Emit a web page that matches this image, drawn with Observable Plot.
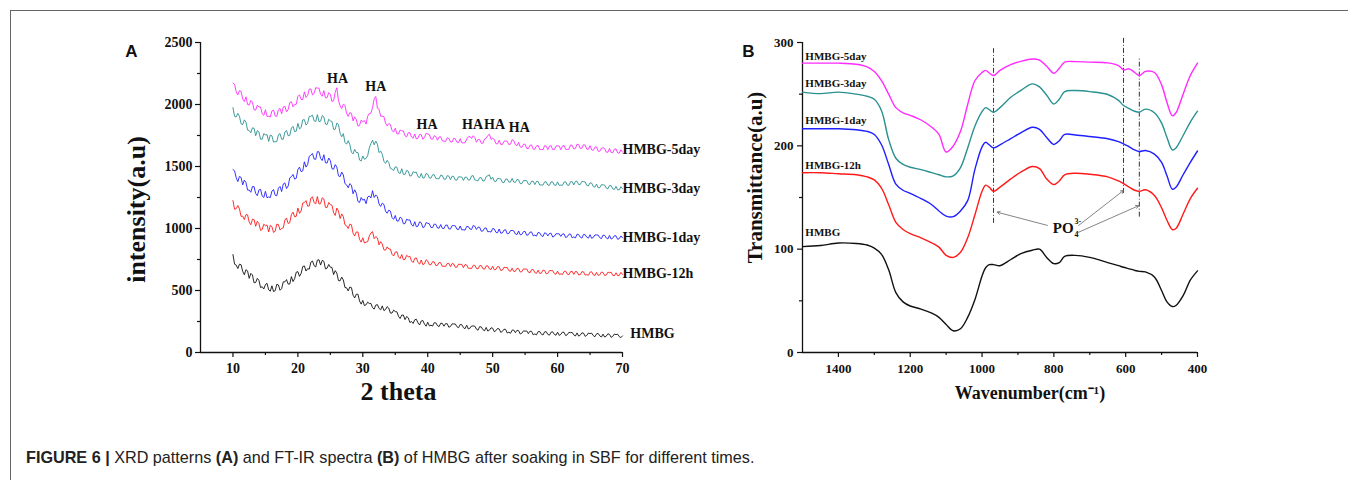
<!DOCTYPE html>
<html>
<head>
<meta charset="utf-8">
<script src="https://cdn.jsdelivr.net/npm/d3@7"></script>
<script src="https://cdn.jsdelivr.net/npm/@observablehq/plot@0.6"></script>
<style>
  body { margin: 0; background: #fff; }
  #wrap { position: relative; width: 1348px; height: 480px; overflow: hidden; background: #fff; }
  #frameTop { position: absolute; left: 10px; top: 10px; width: 1338px; height: 0; border-top: 1.5px solid #666; }
  #frameLeft { position: absolute; left: 10px; top: 10px; width: 0; height: 470px; border-left: 1.5px solid #666; }
  #plotA { position: absolute; left: 0; top: 0; }
  #plotB { position: absolute; left: 730px; top: 0; }
  #caption { position: absolute; left: 26px; top: 448px; font-family: "Liberation Sans Narrow", "Liberation Sans", Arial, sans-serif; font-size: 16.2px; color: #222; white-space: nowrap; }
</style>
</head>
<body>
<div id="wrap">
  <div id="frameTop"></div>
  <div id="frameLeft"></div>
  <div id="plotA"></div>
  <div id="plotB"></div>
  <div id="caption"><b>FIGURE 6 |</b> XRD patterns <b>(A)</b> and FT-IR spectra <b>(B)</b> of HMBG after soaking in SBF for different times.</div>
</div>
<script>
// ---------- Panel A: XRD ----------
// readings at 2θ = 10, 10.5, ... 70 (main) and 10.25, 10.75, ... 69.75 (q)
const thetaMain = d3.range(10, 70.001, 0.5);
const thetaQ = d3.range(10.25, 70, 0.5);

const xrdHMBG = [
  790,705,712,655,668,598,625,565,582,530,
  548,505,538,498,545,515,570,552,612,595,
  652,638,698,676,728,700,745,705,735,680,
  688,628,640,578,585,522,528,462,470,415,
  420,385,395,362,382,356,376,346,358,318,
  330,292,302,265,280,250,264,238,254,228,
  244,220,240,216,236,212,232,210,230,208,
  226,200,220,196,214,188,208,184,202,180,
  196,176,190,170,186,164,180,160,176,156,
  172,152,170,150,168,148,166,146,164,146,
  164,146,162,144,160,142,158,140,156,138,
  152,136,150,134,148,132,146,130,144,128,
  134
];
const xrdHMBGq = [
  712,677,708,627,658,638,562,598,524,512,
  558,494,492,550,502,570,588,552,572,648,
  614,693,657,672,738,690,748,743,674,710,
  686,660,580,608,524,497,523,440,470,390,
  378,406,396,350,386,344,338,370,318,342,
  328,274,302,290,242,234,268,222,258,212,
  215,213,239,209,235,233,204,231,230,200,
  224,192,190,214,212,180,206,175,173,199,
  168,194,162,188,157,155,181,179,149,175,
  174,172,143,142,169,141,168,140,167,139,
  138,165,136,163,162,133,132,159,130,157,
  156,127,154,125,124,151,122,149,148,120
];
const xrd12h = [
  1225,1160,1158,1100,1112,1052,1075,1018,1040,992,
  1022,972,1015,978,1032,1002,1068,1040,1112,1095,
  1165,1142,1210,1180,1245,1208,1258,1200,1238,1170,
  1192,1128,1165,1080,1095,1022,1035,962,972,912,
  925,890,940,975,935,868,875,825,835,792,
  810,772,790,752,772,738,758,726,746,716,
  738,708,730,704,724,696,718,692,714,688,
  710,684,706,680,702,678,700,676,698,674,
  696,670,690,664,684,660,680,656,676,652,
  672,648,668,644,664,640,662,638,660,636,
  656,634,654,632,652,630,650,628,650,628,
  648,626,646,626,645,624,644,622,643,622,
  630
];
const xrd12hq = [
  1155,1185,1098,1072,1110,1030,1072,1058,985,1035,
  1028,1025,968,1035,988,1005,1085,1048,1132,1098,
  1122,1205,1225,1182,1255,1200,1198,1248,1170,1210,
  1188,1105,1142,1118,1030,1000,1030,940,972,890,
  883,893,964,918,924,894,828,852,834,778,
  812,758,748,784,776,725,763,713,708,748,
  708,732,701,726,695,693,719,717,687,713,
  711,709,679,677,703,674,701,672,699,670,
  668,694,662,688,685,655,653,679,649,675,
  673,643,669,639,637,664,634,661,660,631,
  630,629,656,627,654,654,625,652,624,623,
  651,622,622,649,621,648,648,619,619,646
];
const xrd1day = [
  1475,1410,1420,1352,1372,1310,1338,1282,1310,1262,
  1300,1255,1302,1268,1325,1298,1368,1342,1418,1398,
  1475,1458,1538,1515,1592,1560,1620,1565,1595,1528,
  1548,1478,1495,1418,1432,1352,1362,1280,1285,1210,
  1228,1200,1262,1305,1270,1198,1205,1140,1148,1088,
  1105,1060,1082,1040,1068,1030,1055,1020,1046,1014,
  1042,1008,1036,1004,1032,1000,1028,996,1024,994,
  1020,990,1016,996,1024,992,1010,980,1004,976,
  1000,970,996,964,990,960,985,956,980,952,
  976,950,972,946,968,942,965,940,962,938,
  958,936,956,934,955,932,954,930,952,930,
  950,928,948,926,946,924,944,922,940,918,
  925
];
const xrd1dayq = [
  1465,1378,1412,1390,1310,1292,1338,1265,1316,1250,
  1248,1249,1314,1264,1339,1359,1322,1408,1436,1405,
  1495,1465,1495,1582,1605,1558,1618,1548,1530,1568,
  1482,1515,1425,1455,1362,1328,1350,1312,1218,1250,
  1237,1254,1246,1250,1257,1178,1194,1123,1140,1074,
  1060,1092,1038,1075,1069,1019,1014,1054,1007,1048,
  1038,1007,1033,1003,1001,1027,997,1023,1021,991,
  989,987,1016,992,1018,1011,978,1003,973,971,
  996,965,962,987,957,983,981,951,949,975,
  945,971,941,939,965,935,961,960,931,958,
  957,956,927,954,925,924,951,923,950,922,
  921,948,947,918,945,916,915,942,913,940
];
const xrd3day = [
  1975,1900,1905,1838,1858,1790,1812,1748,1778,1720,
  1755,1702,1748,1700,1756,1720,1778,1748,1810,1782,
  1848,1815,1878,1848,1905,1868,1918,1865,1900,1838,
  1868,1800,1850,1768,1765,1680,1678,1602,1612,1552,
  1585,1565,1650,1712,1705,1612,1598,1525,1532,1478,
  1498,1450,1482,1436,1462,1426,1452,1418,1444,1410,
  1438,1406,1434,1402,1430,1398,1426,1394,1420,1390,
  1416,1388,1414,1392,1426,1388,1410,1382,1418,1432,
  1414,1378,1402,1372,1398,1374,1404,1372,1392,1362,
  1386,1358,1382,1354,1380,1352,1376,1350,1376,1350,
  1376,1350,1375,1350,1377,1352,1382,1356,1378,1348,
  1368,1338,1358,1330,1352,1326,1346,1320,1340,1312,
  1322
];
const xrd3dayq = [
  1904,1928,1844,1876,1794,1772,1808,1790,1720,1765,
  1757,1753,1697,1701,1765,1720,1790,1751,1824,1785,
  1803,1876,1834,1904,1914,1863,1862,1911,1842,1881,
  1863,1800,1838,1740,1694,1708,1614,1638,1613,1544,
  1558,1588,1685,1675,1680,1625,1542,1550,1485,1468,
  1494,1444,1436,1469,1423,1458,1454,1410,1406,1444,
  1407,1433,1403,1401,1427,1397,1423,1421,1391,1417,
  1415,1414,1390,1424,1392,1384,1409,1386,1426,1396,
  1382,1404,1400,1370,1399,1374,1374,1396,1362,1387,
  1385,1355,1381,1379,1350,1349,1376,1348,1376,1348,
  1348,1348,1376,1348,1378,1380,1354,1380,1376,1344,
  1366,1334,1328,1353,1350,1320,1346,1315,1312,1337
];
const xrd5day = [
  2172,2102,2112,2045,2062,1995,2018,1955,1980,1925,
  1958,1905,1948,1908,1958,1925,1985,1958,2022,2000,
  2065,2040,2102,2072,2125,2090,2132,2082,2112,2055,
  2082,2030,2135,1990,2002,1930,1935,1868,1878,1832,
  1862,1842,1928,1975,2065,1962,1905,1850,1846,1790,
  1808,1762,1788,1748,1772,1738,1762,1728,1756,1735,
  1762,1722,1748,1712,1740,1704,1732,1698,1728,1696,
  1724,1690,1722,1742,1748,1696,1718,1688,1728,1760,
  1728,1684,1712,1678,1706,1676,1716,1676,1694,1654,
  1680,1644,1674,1640,1670,1638,1668,1636,1668,1636,
  1668,1636,1670,1638,1674,1642,1680,1646,1676,1640,
  1668,1630,1658,1622,1650,1616,1646,1612,1642,1608,
  1616
];
const xrd5dayq = [
  2163,2077,2106,2024,2000,2033,1957,1994,1980,1912,
  1903,1899,1955,1903,1968,1980,1941,2016,1981,2002,
  2078,2041,2057,2125,2077,2136,2132,2067,2054,2096,
  2024,2098,2032,1967,1993,1904,1928,1900,1826,1874,
  1870,1905,1930,2045,1970,1905,1902,1828,1838,1778,
  1764,1794,1786,1739,1773,1728,1722,1759,1720,1768,
  1758,1720,1742,1738,1706,1702,1727,1697,1723,1693,
  1691,1692,1739,1726,1734,1719,1687,1721,1749,1719,
  1719,1682,1678,1703,1703,1681,1708,1668,1658,1679,
  1646,1671,1640,1666,1637,1636,1664,1664,1636,1664,
  1664,1664,1638,1640,1670,1646,1676,1647,1672,1639,
  1634,1656,1624,1648,1645,1615,1613,1639,1609,1635
];
const xrdNames = ["HMBG", "HMBG-12h", "HMBG-1day", "HMBG-3day", "HMBG-5day"];
const xrdLabelX = [71.2, 70, 70, 70, 70];
const xrdLabelY = [155, 637, 927, 1323, 1637];
const seriesColors = ["#111111", "#ff1a1a", "#1f1fff", "#2a9090", "#ff2bff"];
const xrdTicks = [10, 20, 30, 40, 50, 60, 70];
const xrdMinor = [15, 25, 35, 45, 55, 65];
const xrdYTicks = [0, 500, 1000, 1500, 2000, 2500];
const xrdYMinor = [250, 750, 1250, 1750, 2250];
const haX = [26.1, 32.0, 39.9, 46.9, 50.3, 54.1];
const haY = [2210, 2145, 1839, 1839, 1839, 1815];

// ---------- Panel B: FT-IR ----------
const wn = [1500,1450,1400,1350,1320,1300,1280,1260,1240,1220,1200,1170,1140,1120,1100,1080,1060,1040,1020,1000,990,980,968,950,920,890,860,840,820,800,785,770,740,700,650,620,606,590,575,562,545,520,500,485,470,460,440,420,400];
const irHMBG = [102.5,103.5,106,105.5,104,101,95,80,58,49,45,42,38,34,27,21,23,34,51,74,82,85,85,84,90,96,99,100,92,86,87,93,94,92,87,84,82.5,81,79.5,78.5,78,73,60,49,44.5,45.5,55,70,79];
const ir12h  = [174,174,173,172,170,167,159,143,126,119,115,111,106,102,94,92,97,111,133,156,162,160,156,160,168,175,180,178,168,162.5,166,172,173.5,172.5,170,166,163.5,160,157,156,157.5,152,140,128,119,120,134,149,159];
const ir1day = [216.5,216.5,216.5,215.5,214,211,201,182,163,157,154,149,143,137,132,131.5,137,147,177,199,203.5,201,198,201,207,213,218,216,208,201.3,205,211,210.5,209,206.8,204,202,199,196,194.5,195.5,192,184,171,158,160,172,184,195];
const ir3day = [252,250.5,252,250,248,245,234,206,188,182,179.3,177,174,172,170,171,179,198,219,233,237,235,232.5,237,247,254,260,257,249,240.5,245,252.5,253.5,252.5,249.7,244,239,236,233.5,232.5,235.5,232,222,208,196,198,210,223,233.5];
const ir5day = [280,280,280,279,276.5,272,263,250,237,232,229.5,225,218,211,194,200,214,240,263,271,273,270.5,268,273,278.5,282,284,283,277,270.3,275,281,281.5,281,280.3,277.7,273.5,274.5,271,268,272,271,259,242,229,232,250,268,280];
const irLabelY = [116, 181, 224.5, 260, 286];
const irTicks = [1400, 1200, 1000, 800, 600, 400];
const irMinor = [1300, 1100, 900, 700, 500];
const irYTicks = [0, 100, 200, 300];
const irYMinor = [50, 150, 250];
const poLineX = [968, 606, 562];
const poLineY1 = [125, 154, 131];
const poLineY2 = [294, 304, 285.5];
const poArrowX1 = [818, 731, 731];
const poArrowY1 = [123, 123, 116.4];
const poArrowX2 = [958, 606, 564];
const poArrowY2 = [135.8, 156.8, 142];

// ---------- build tables ----------
const xrdMain = [xrdHMBG, xrd12h, xrd1day, xrd3day, xrd5day];
const xrdQ = [xrdHMBGq, xrd12hq, xrd1dayq, xrd3dayq, xrd5dayq];
const xrdRows = xrdMain.flatMap((vals, k) => {
  const pts = vals.map((v, i) => ({x: thetaMain[i], y: v, s: xrdNames[k]}))
    .concat(xrdQ[k].map((v, i) => ({x: thetaQ[i], y: v, s: xrdNames[k]})));
  return pts.sort((a, b) => a.x - b.x);
});
const irSeries = [irHMBG, ir12h, ir1day, ir3day, ir5day];
const irRows = irSeries.flatMap((vals, k) => vals.map((v, i) => ({x: wn[i], y: v, s: xrdNames[k]})));
const colorOf = Object.fromEntries(xrdNames.map((n, i) => [n, seriesColors[i]]));

const serif = "'Liberation Serif', 'Times New Roman', serif";
const baseStyle = {fontFamily: serif, fontWeight: "bold", fontSize: "13px", color: "#111", background: "transparent", overflow: "visible"};
const tickTextA = {fontSize: 14, fontWeight: "bold", fontFamily: serif, fill: "#111", tickFormat: d => String(d)};
const tickTextB = {fontSize: 13, fontWeight: "bold", fontFamily: serif, fill: "#111", tickFormat: d => String(d)};

const plotA = Plot.plot({
  width: 730, height: 420,
  marginLeft: 200, marginRight: 108, marginTop: 42, marginBottom: 68,
  style: baseStyle,
  x: {domain: [5, 70]},
  y: {domain: [0, 2500]},
  marks: [
    Plot.ruleY([0], {x1: 5, x2: 70, stroke: "#111", strokeWidth: 1.3}),
    Plot.ruleX([5], {y1: 0, y2: 2500, stroke: "#111", strokeWidth: 1.3}),
    Plot.axisX({ticks: xrdTicks, tickSize: 5, tickPadding: 6, label: null, strokeWidth: 1.2, ...tickTextA}),
    Plot.axisX({ticks: xrdMinor, tickSize: 3, text: null, label: null, strokeWidth: 1.2}),
    Plot.axisY({ticks: xrdYTicks, tickSize: 5, tickPadding: 3, label: null, strokeWidth: 1.2, ...tickTextA}),
    Plot.axisY({ticks: xrdYMinor, tickSize: 3, text: null, label: null, strokeWidth: 1.2}),
    Plot.line(xrdRows, {x: "x", y: "y", z: "s", stroke: d => colorOf[d.s], strokeWidth: 0.9}),
    Plot.text(xrdNames, {x: (d, i) => xrdLabelX[i], y: (d, i) => xrdLabelY[i], text: d => d, textAnchor: "start", fontSize: 14, fill: "#111"}),
    Plot.text(haX, {x: d => d, y: (d, i) => haY[i], text: () => "HA", fontSize: 14, fill: "#111"}),
    Plot.text(["2 theta"], {frameAnchor: "bottom", textAnchor: "middle", dx: -13, dy: 47, fontSize: 26, fill: "#111"}),
    Plot.text(["intensity(a.u)"], {frameAnchor: "left", textAnchor: "middle", dx: -64, dy: 12, rotate: -90, fontSize: 26, fill: "#111"}),
    Plot.text(["A"], {frameAnchor: "top-left", textAnchor: "middle", dx: -69, dy: 2, fontFamily: "'Liberation Sans', Arial, sans-serif", fontSize: 17, fill: "#111"})
  ]
});
document.getElementById("plotA").appendChild(plotA);

const plotB = Plot.plot({
  width: 618, height: 420,
  marginLeft: 72, marginRight: 151, marginTop: 42, marginBottom: 68,
  style: baseStyle,
  x: {domain: [1500, 400]},
  y: {domain: [0, 300]},
  marks: [
    Plot.ruleY([0], {x1: 1500, x2: 400, stroke: "#111", strokeWidth: 1.3}),
    Plot.ruleX([1500], {y1: 0, y2: 300, stroke: "#111", strokeWidth: 1.3}),
    Plot.axisX({ticks: irTicks, tickSize: 5, tickPadding: 6, label: null, strokeWidth: 1.2, ...tickTextB}),
    Plot.axisX({ticks: irMinor, tickSize: 3, text: null, label: null, strokeWidth: 1.2}),
    Plot.axisY({ticks: irYTicks, tickSize: 5, tickPadding: 4, label: null, strokeWidth: 1.2, ...tickTextB}),
    Plot.axisY({ticks: irYMinor, tickSize: 3, text: null, label: null, strokeWidth: 1.2}),
    Plot.ruleX(poLineX, {x: d => d, y1: (d, i) => poLineY1[i], y2: (d, i) => poLineY2[i], stroke: "#333", strokeWidth: 1, strokeDasharray: "5,2,1,2"}),
    Plot.line(irRows, {x: "x", y: "y", z: "s", stroke: d => colorOf[d.s], strokeWidth: 1.4, curve: "catmull-rom"}),
    Plot.arrow(poArrowX1, {x1: d => d, y1: (d, i) => poArrowY1[i], x2: (d, i) => poArrowX2[i], y2: (d, i) => poArrowY2[i], stroke: "#666", strokeWidth: 0.8, headLength: 6}),
    Plot.text(["PO"], {x: () => 745, y: () => 120, textAnchor: "end", fontSize: 15, fill: "#111"}),
    Plot.text(["3-"], {x: () => 745, y: () => 120, textAnchor: "start", dx: 1, dy: -7, fontSize: 8, fill: "#111"}),
    Plot.text(["4"], {x: () => 745, y: () => 120, textAnchor: "start", dx: 1, dy: 6, fontSize: 8, fill: "#111"}),
    Plot.text(xrdNames, {x: () => 1492, y: (d, i) => irLabelY[i], text: d => d, textAnchor: "start", fontSize: 11, fontWeight: (d, i) => i === 0 ? "normal" : "bold", fill: "#111"}),
    Plot.text(["Wavenumber(cm\u207B\u00B9)"], {frameAnchor: "bottom", textAnchor: "middle", dx: 30, dy: 46, fontSize: 18, fill: "#111"}),
    Plot.text(["Transmittance(a.u)"], {frameAnchor: "left", textAnchor: "middle", dx: -47, dy: -20, rotate: -90, fontSize: 21, fill: "#111"}),
    Plot.text(["B"], {frameAnchor: "top-left", textAnchor: "middle", dx: -54, dy: 2, fontFamily: "'Liberation Sans', Arial, sans-serif", fontSize: 17, fill: "#111"})
  ]
});
document.getElementById("plotB").appendChild(plotB);
</script>
</body>
</html>
